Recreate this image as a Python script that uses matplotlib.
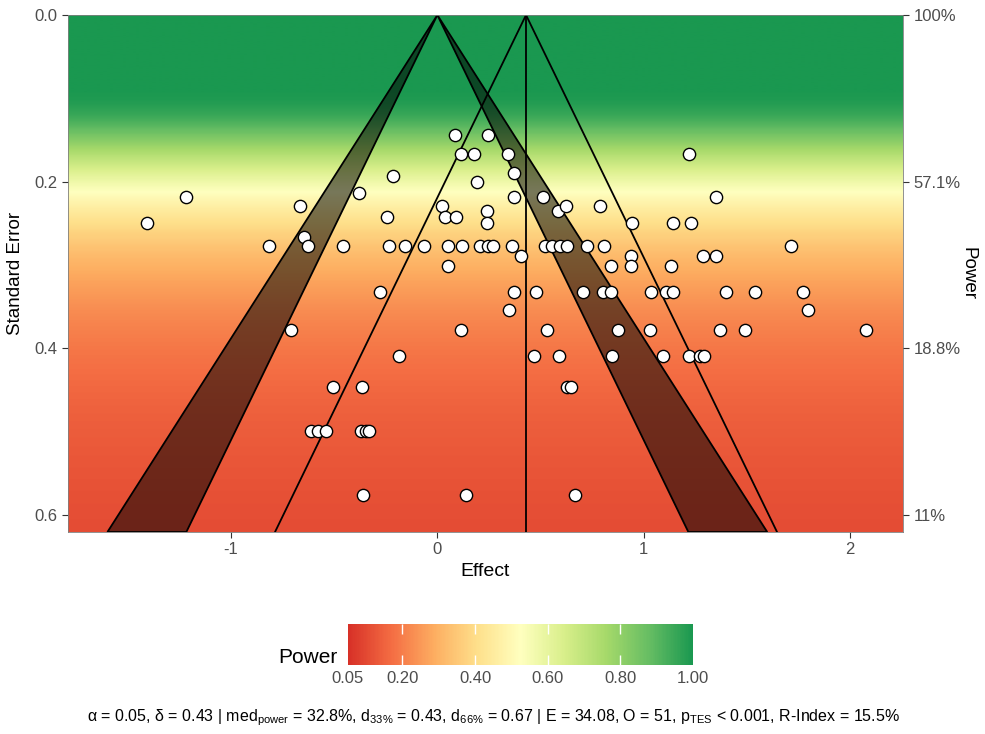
import math
import numpy as np
import matplotlib
matplotlib.use('Agg')
import matplotlib.pyplot as plt
from matplotlib.colors import LinearSegmentedColormap, Normalize
from matplotlib.cm import ScalarMappable

plt.rcParams['font.family'] = ['Liberation Sans', 'DejaVu Sans']
plt.rcParams['axes.unicode_minus'] = False

# study effects and standard errors
effect = [-1.409, -1.220, -0.815, -0.711, -0.664, -0.645, -0.629, -0.614, -0.577, -0.540,
          -0.508, -0.456, -0.380, -0.371, -0.364, -0.359, -0.347, -0.330, -0.276, -0.245,
          -0.236, -0.216, -0.184, -0.157, -0.063, 0.021, 0.037, 0.050, 0.050, 0.086,
          0.091, 0.113, 0.113, 0.120, 0.138, 0.179, 0.191, 0.207, 0.240, 0.240,
          0.247, 0.247, 0.272, 0.341, 0.348, 0.364, 0.373, 0.373, 0.373, 0.406,
          0.469, 0.477, 0.514, 0.522, 0.531, 0.555, 0.587, 0.592, 0.595, 0.623,
          0.628, 0.628, 0.647, 0.668, 0.708, 0.725, 0.789, 0.802, 0.810, 0.841,
          0.842, 0.849, 0.875, 0.939, 0.939, 0.946, 1.032, 1.035, 1.093, 1.109,
          1.132, 1.142, 1.145, 1.221, 1.222, 1.229, 1.274, 1.290, 1.295, 1.350,
          1.352, 1.371, 1.399, 1.492, 1.541, 1.714, 1.772, 1.796, 2.078]
se = [0.250, 0.219, 0.278, 0.378, 0.230, 0.267, 0.278, 0.500, 0.500, 0.500,
      0.447, 0.278, 0.214, 0.500, 0.447, 0.577, 0.500, 0.500, 0.333, 0.243,
      0.278, 0.193, 0.409, 0.278, 0.278, 0.230, 0.243, 0.278, 0.302, 0.144,
      0.243, 0.167, 0.378, 0.278, 0.577, 0.167, 0.200, 0.278, 0.236, 0.250,
      0.144, 0.278, 0.278, 0.167, 0.354, 0.278, 0.190, 0.219, 0.333, 0.289,
      0.409, 0.333, 0.219, 0.278, 0.378, 0.278, 0.236, 0.409, 0.278, 0.230,
      0.278, 0.447, 0.447, 0.577, 0.333, 0.278, 0.230, 0.333, 0.278, 0.302,
      0.333, 0.409, 0.378, 0.289, 0.302, 0.250, 0.378, 0.333, 0.409, 0.333,
      0.302, 0.333, 0.250, 0.409, 0.167, 0.250, 0.409, 0.289, 0.409, 0.289,
      0.219, 0.378, 0.333, 0.378, 0.333, 0.278, 0.333, 0.354, 0.378]

delta = 0.43
alpha = 0.05
z95 = 1.96
z99 = 2.576
se_max = 0.621
x_lim = (-1.791, 2.258)

power_ticks = [0.0, 0.2, 0.4, 0.6]
power_labels = ['100%', '57.1%', '18.8%', '11%']
cbar_ticks = [0.05, 0.2, 0.4, 0.6, 0.8, 1.0]
cbar_labels = ['0.05', '0.20', '0.40', '0.60', '0.80', '1.00']

cmap = LinearSegmentedColormap.from_list('sunset', ['#d73027', '#f46d43', '#fdae61', '#fee08b', '#ffffbf',
                                                    '#d9ef8b', '#a6d96a', '#66bd63', '#1a9850'])
norm = Normalize(0.05, 1.0)


def phi(v):
    return 0.5 * (1 + math.erf(v / math.sqrt(2)))


def power(s):
    if s <= 0:
        return 1.0
    return phi(delta / s - z95) + phi(-delta / s - z95)


fig = plt.figure(figsize=(9.85, 7.34), dpi=100)
ax = fig.add_axes([68 / 985, 1 - 532 / 734, 835 / 985, 517 / 734])

# background: power at each standard error
ses = np.linspace(0, se_max, 400)
pw = np.array([power(s) for s in ses])
ax.imshow(pw.reshape(-1, 1), cmap=cmap, norm=norm, aspect='auto',
          extent=[x_lim[0], x_lim[1], se_max, 0], interpolation='bilinear', zorder=0)

# significance bands around zero
for sgn in (-1, 1):
    ax.fill([0, sgn * z99 * se_max, sgn * z95 * se_max], [0, se_max, se_max],
            facecolor=(0, 0, 0, 0.53), edgecolor='black', linewidth=1.3, zorder=2)
# funnel around delta
ax.plot([delta - z95 * se_max, delta, delta + z95 * se_max], [se_max, 0, se_max],
        color='black', linewidth=1.3, zorder=2)
ax.plot([delta, delta], [0, se_max], color='black', linewidth=1.3, zorder=2)

ax.scatter(effect, se, s=78, facecolor='white', edgecolor='black', linewidth=1.0, zorder=3)

ax.set_xlim(*x_lim)
ax.set_ylim(se_max, 0)
ax.set_xticks([-1, 0, 1, 2])
ax.set_yticks([0.0, 0.2, 0.4, 0.6])
ax.set_yticklabels(['0.0', '0.2', '0.4', '0.6'])
ax.set_xlabel('Effect', fontsize=14, labelpad=4)
ax.set_ylabel('Standard Error', fontsize=13.5, va='center')
ax.yaxis.set_label_coords(-0.063, 0.5)
ax.tick_params(colors='#333333', labelcolor='#4d4d4d', labelsize=12, length=4)
for sp in ax.spines.values():
    sp.set_color('#7f7f7f')
    sp.set_linewidth(0.6)

ax2 = ax.twinx()
ax2.set_ylim(se_max, 0)
ax2.set_yticks(power_ticks)
ax2.set_yticklabels(power_labels)
ax2.set_ylabel('Power', fontsize=13.5, rotation=270, va='center')
ax2.yaxis.set_label_coords(1.078, 0.5)
ax2.tick_params(colors='#333333', labelcolor='#4d4d4d', labelsize=12, length=4)
for sp in ax2.spines.values():
    sp.set_visible(False)

# colour bar legend
cax = fig.add_axes([348 / 985, 1 - 665 / 734, 345 / 985, 41 / 734])
cb = fig.colorbar(ScalarMappable(norm=norm, cmap=cmap), cax=cax, orientation='horizontal')
cb.outline.set_visible(False)
cb.set_ticks(cbar_ticks)
cb.set_ticklabels(cbar_labels)
cax.xaxis.set_ticks_position('both')
cax.tick_params(axis='x', direction='in', color='white', width=1, length=7,
                labelcolor='#4d4d4d', labelsize=12, labeltop=False, pad=4)
for i in (0, -1):
    t = cax.xaxis.get_major_ticks()[i]
    t.tick1line.set_visible(False)
    t.tick2line.set_visible(False)
fig.text(337 / 985, 1 - 667 / 734, 'Power', ha='right', va='bottom', fontsize=15)

footer = (r'α = 0.05, δ = 0.43 | med$_\mathregular{power}$ = 32.8%, d$_\mathregular{33\%}$ = 0.43, '
          r'd$_\mathregular{66\%}$ = 0.67 | E = 34.08, O = 51, p$_\mathregular{TES}$ < 0.001, R-Index = 15.5%')
fig.text(493 / 985, 1 - 718 / 734, footer, ha='center', va='center', fontsize=11.5)

fig.savefig('out.png', dpi=100)
